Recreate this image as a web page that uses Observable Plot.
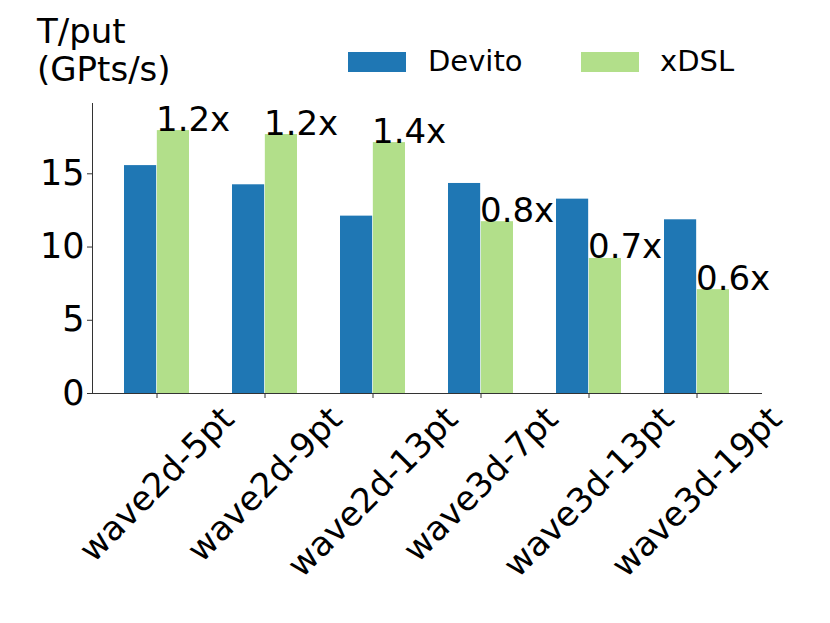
<!DOCTYPE html>
<html>
<head>
<meta charset="utf-8">
<script src="https://cdn.jsdelivr.net/npm/d3@7"></script>
<script src="https://cdn.jsdelivr.net/npm/@observablehq/plot@0.6"></script>
<style>
  html, body { margin: 0; padding: 0; background: #fff; }
  #wrap { position: relative; width: 830px; height: 623px; font-family: "DejaVu Sans", sans-serif; color: #000; }
  #ylabel { position: absolute; left: 37px; top: 12px; font-size: 34px; line-height: 38px; white-space: pre; }
  .sw { position: absolute; width: 58px; height: 20px; top: 52px; }
  .lt { position: absolute; top: 47px; font-size: 29px; line-height: 29px; }
</style>
</head>
<body>
<div id="wrap">
  <div id="chart"></div>
  <div id="ylabel">T/put
(GPts/s)</div>
  <div class="sw" style="left:348px;background:#1f77b4"></div>
  <div class="lt" style="left:428px">Devito</div>
  <div class="sw" style="left:581px;background:#b2df8a"></div>
  <div class="lt" style="left:660px">xDSL</div>
</div>
<script>
const categories = ["wave2d-5pt", "wave2d-9pt", "wave2d-13pt", "wave3d-7pt", "wave3d-13pt", "wave3d-19pt"];
const devito = [15.56, 14.25, 12.11, 14.34, 13.27, 11.86];
const xdsl = [17.95, 17.68, 17.13, 11.73, 9.22, 7.09];
const speedupLabels = ["1.2x", "1.2x", "1.4x", "0.8x", "0.7x", "0.6x"];
const yTicks = [0, 5, 10, 15];

const rows = categories.map((c, i) => ({cat: c, devito: devito[i], xdsl: xdsl[i], label: speedupLabels[i]}));

const W = 830, H = 623;
const mL = 92, mR = 69, mT = 103, mB = 230;
const pIn = 0.394, pOut = 0.284;
const step = (W - mL - mR) / (categories.length - pIn + 2 * pOut);
const half = step * (1 - pIn) / 2;

const canvas = document.createElement("canvas");
const ctx = canvas.getContext("2d");
ctx.font = "34px 'DejaVu Sans'";

const labelMarks = categories.map(c => {
  const w = ctx.measureText(c).width;
  const center = 403 + (w + 28) * 0.3536;
  return Plot.text([c], {
    x: d => d, frameAnchor: "bottom", dy: center - (H - mB),
    text: d => d, rotate: -45, textAnchor: "middle", lineAnchor: "middle",
    fontSize: 34, fill: "#000"
  });
});

const chart = Plot.plot({
  width: W, height: H,
  marginLeft: mL, marginRight: mR, marginTop: mT, marginBottom: mB,
  style: {fontFamily: "'DejaVu Sans', sans-serif", background: "#fff", color: "#000"},
  x: {domain: categories, paddingInner: pIn, paddingOuter: pOut, align: 0.5, label: null},
  y: {domain: [0, 19.8], label: null},
  marks: [
    Plot.barY(rows, {x: "cat", y: "devito", fill: "#1f77b4", insetLeft: 0, insetRight: half}),
    Plot.barY(rows, {x: "cat", y: "xdsl", fill: "#b2df8a", insetLeft: half, insetRight: 0}),
    Plot.text(rows, {x: "cat", y: "xdsl", text: "label", textAnchor: "start", lineAnchor: "bottom", fontSize: 34, fill: "#000", dx: -1}),
    Plot.axisY({ticks: yTicks, tickSize: 5, tickPadding: 3, fontSize: 35, label: null, stroke: "#333", fill: "#000"}),
    Plot.axisX({tickSize: 5, tickFormat: () => "", label: null, stroke: "#333"}),
    Plot.frame({anchor: "left", stroke: "#333"}),
    Plot.frame({anchor: "bottom", stroke: "#333"}),
    ...labelMarks
  ]
});
document.getElementById("chart").appendChild(chart);
</script>
</body>
</html>
